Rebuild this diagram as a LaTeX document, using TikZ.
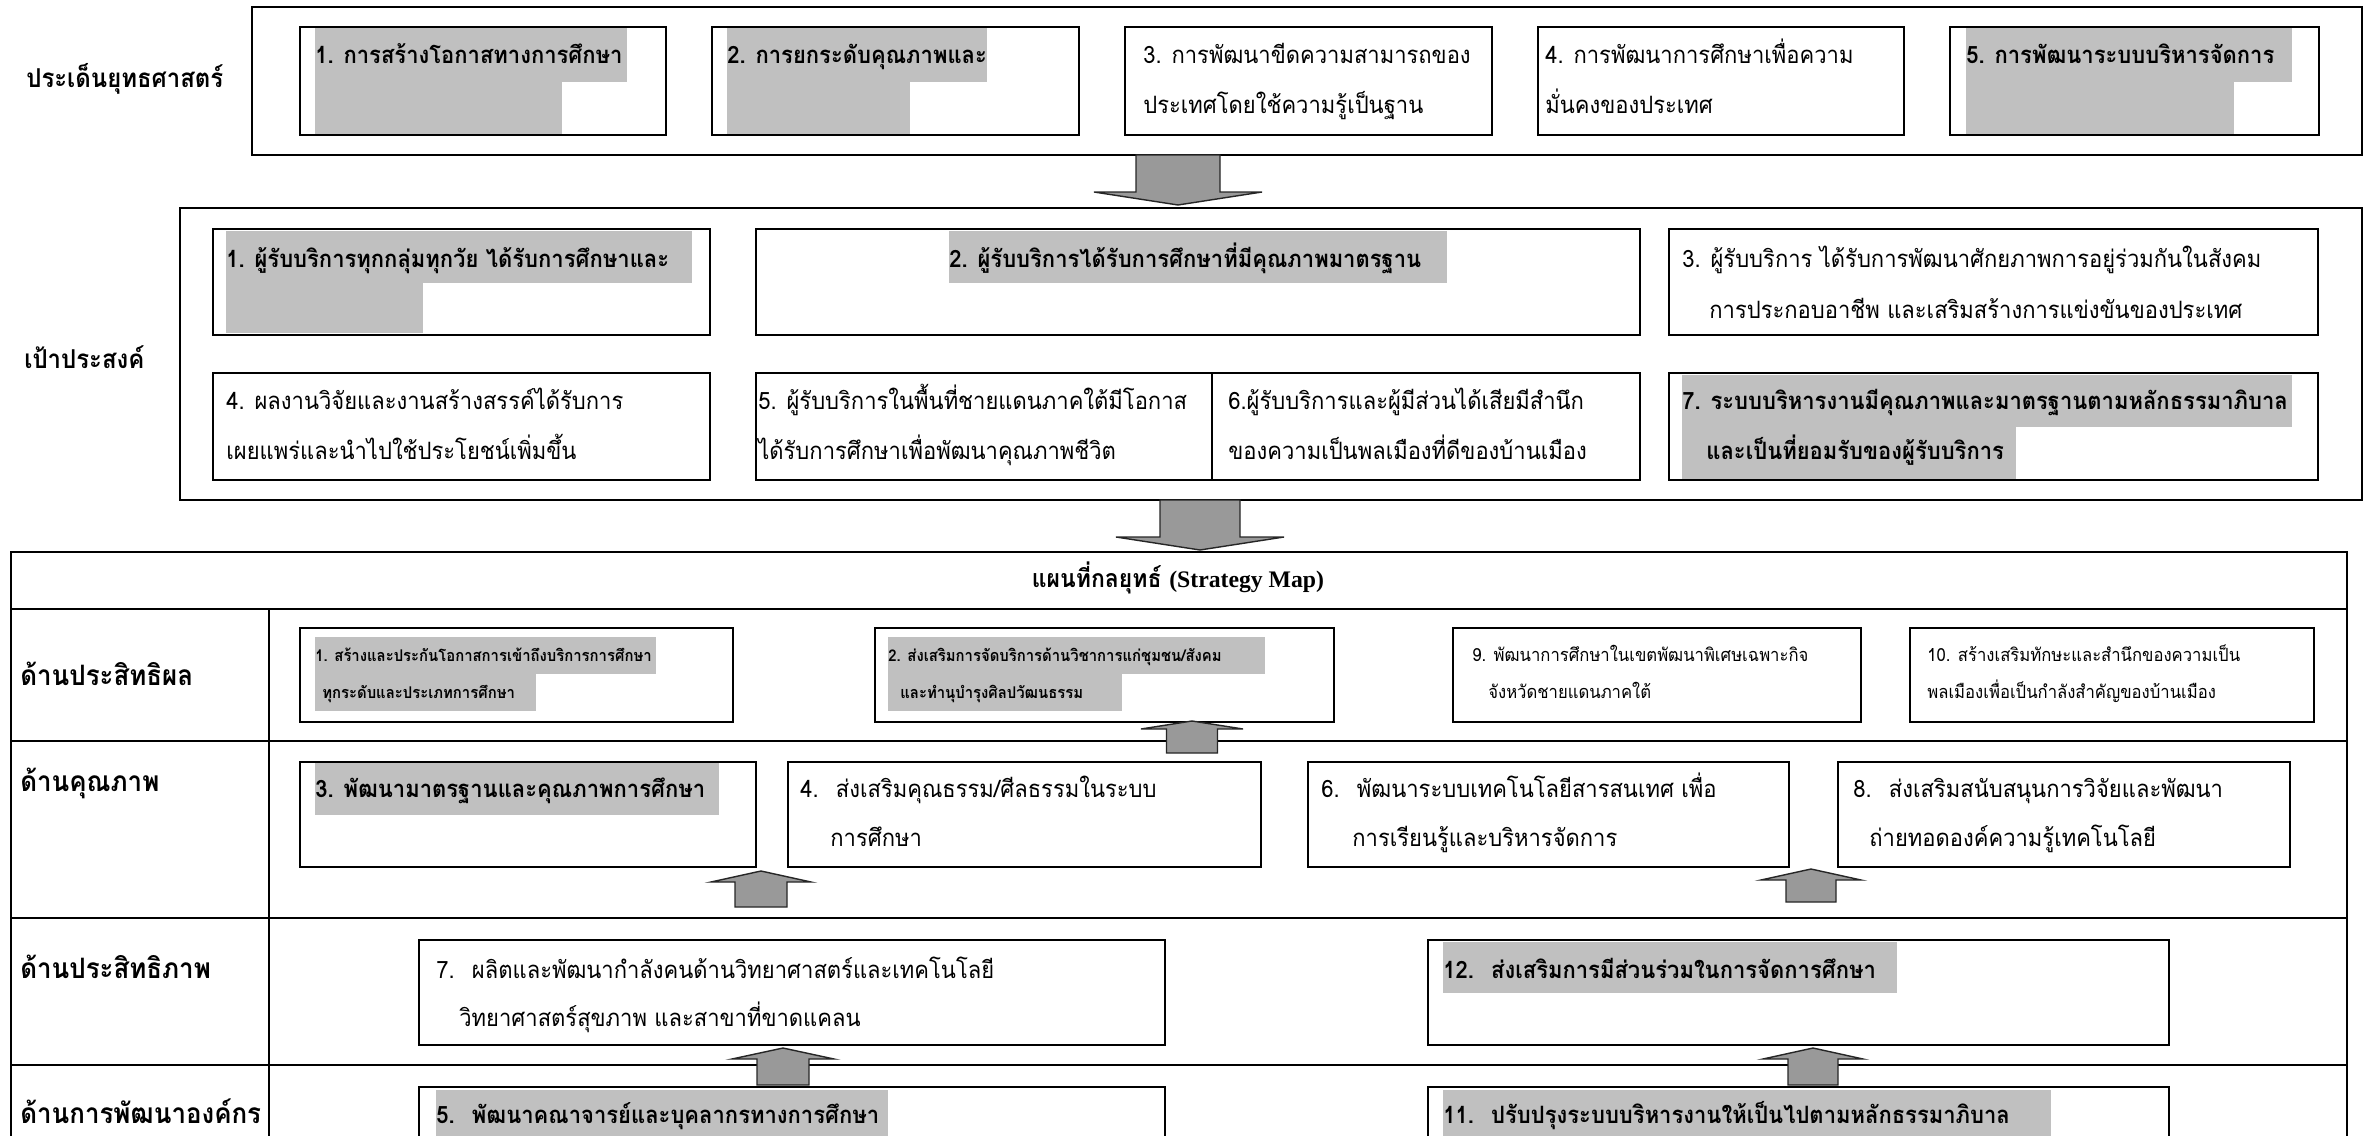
\documentclass[tikz,border=0pt]{standalone}
\usepackage{fontspec}
\newfontfamily\thai[Script=Thai, FakeStretch=0.92]{Loma}
\newfontfamily\latinserif{Liberation Serif}
\usetikzlibrary{fit}

\definecolor{hlgray}{HTML}{C0C0C0}
\definecolor{arrowgray}{HTML}{999999}

\tikzset{
  frame/.style={draw, line width=1.6pt},
  cell/.style={draw, line width=1.6pt, inner sep=0pt},
  txt/.style={anchor=base west, inner sep=0pt, font={\thai\fontsize{13.6}{15}\selectfont}},
  btxt/.style={txt, font={\thai\bfseries\fontsize{13.6}{15}\selectfont}},
  stxt/.style={txt, font={\thai\fontsize{10.3}{12}\selectfont}},
  sbtxt/.style={txt, font={\thai\bfseries\fontsize{9.2}{11}\selectfont}},
  rowlab/.style={anchor=base west, inner sep=0pt, font={\thai\bfseries\fontsize{16}{18}\selectfont}},
  toplab/.style={rowlab, font={\thai\bfseries\fontsize{14.8}{17}\selectfont}},
  hl/.style={fill=hlgray},
  blockarr/.style={fill=arrowgray, draw=black!85, line width=0.8pt},
}

% block arrow: centre x, tip y, head base y, tail y, shaft half, head half
\newcommand{\blockarrow}[6]{%
  \filldraw[blockarr] ({#1-#5},#4) -- ({#1-#5},#3) -- ({#1-#6},#3) -- (#1,#2)
    -- ({#1+#6},#3) -- ({#1+#5},#3) -- ({#1+#5},#4) -- cycle;}

\begin{document}
\begin{tikzpicture}[x=0.2mm, y=-0.2mm]
\useasboundingbox (0,0) rectangle (2368,1136);
\clip (0,0) rectangle (2368,1136);

% highlights
\fill[hl] (315,28) rectangle (627,82);   \fill[hl] (315,82) rectangle (562,134);
\fill[hl] (727,28) rectangle (987,82);   \fill[hl] (727,82) rectangle (910,134);
\fill[hl] (1966,28) rectangle (2292,82); \fill[hl] (1966,82) rectangle (2234,134);
\fill[hl] (226,231) rectangle (692,283); \fill[hl] (226,283) rectangle (423,333);
\fill[hl] (949,231) rectangle (1447,283);
\fill[hl] (1682,375) rectangle (2292,427); \fill[hl] (1682,427) rectangle (2016,479);
\fill[hl] (315,637) rectangle (656,674); \fill[hl] (315,674) rectangle (536,711);
\fill[hl] (888,637) rectangle (1265,674); \fill[hl] (888,674) rectangle (1122,711);
\fill[hl] (315,763) rectangle (719,815);
\fill[hl] (1443,942) rectangle (1897,993);
\fill[hl] (436,1090) rectangle (888,1141);
\fill[hl] (1443,1090) rectangle (2051,1141);

% strategic issues
\node[cell, fit={(252,7) (2362,155)}] (issues) {};
\node[toplab] (issueslab) at (26,88) {ประเด็นยุทธศาสตร์};
\node[cell, fit={(300,27) (666,135)}] (is1) {};
\node[cell, fit={(712,27) (1079,135)}] (is2) {};
\node[cell, fit={(1125,27) (1492,135)}] (is3) {};
\node[cell, fit={(1538,27) (1904,135)}] (is4) {};
\node[cell, fit={(1950,27) (2319,135)}] (is5) {};
\node[btxt] (is1a) at (315,64) {1. การสร้างโอกาสทางการศึกษา};
\node[btxt] (is2a) at (727,64) {2. การยกระดับคุณภาพและ};
\node[txt] (is3a) at (1143,64) {3. การพัฒนาขีดความสามารถของ};
\node[txt] (is3b) at (1143,114) {ประเทศโดยใช้ความรู้เป็นฐาน};
\node[txt] (is4a) at (1545,64) {4. การพัฒนาการศึกษาเพื่อความ};
\node[txt] (is4b) at (1545,114) {มั่นคงของประเทศ};
\node[btxt] (is5a) at (1966,64) {5. การพัฒนาระบบบริหารจัดการ};

% goals
\node[cell, fit={(180,208) (2362,500)}] (goals) {};
\node[toplab] (goalslab) at (24,368) {เป้าประสงค์};
\node[cell, fit={(213,229) (710,335)}] (g1) {};
\node[cell, fit={(756,229) (1640,335)}] (g2) {};
\node[cell, fit={(1669,229) (2318,335)}] (g3) {};
\node[cell, fit={(213,373) (710,480)}] (g4) {};
\node[cell, fit={(756,373) (1212,480)}] (g5) {};
\node[cell, fit={(1212,373) (1640,480)}] (g6) {};
\node[cell, fit={(1669,373) (2318,480)}] (g7) {};
\node[btxt] (g1a) at (226,267) {1. ผู้รับบริการทุกกลุ่มทุกวัย ได้รับการศึกษาและ};
\node[btxt] (g2a) at (949,267) {2. ผู้รับบริการได้รับการศึกษาที่มีคุณภาพมาตรฐาน};
\node[txt] (g3a) at (1682,267) {3. ผู้รับบริการ ได้รับการพัฒนาศักยภาพการอยู่ร่วมกันในสังคม};
\node[txt] (g3b) at (1709,318) {การประกอบอาชีพ และเสริมสร้างการแข่งขันของประเทศ};
\node[txt] (g4a) at (226,409) {4. ผลงานวิจัยและงานสร้างสรรค์ได้รับการ};
\node[txt] (g4b) at (226,459) {เผยแพร่และนำไปใช้ประโยชน์เพิ่มขึ้น};
\node[txt] (g5a) at (758,409) {5. ผู้รับบริการในพื้นที่ชายแดนภาคใต้มีโอกาส};
\node[txt] (g5b) at (758,459) {ได้รับการศึกษาเพื่อพัฒนาคุณภาพชีวิต};
\node[txt] (g6a) at (1228,409) {6.ผู้รับบริการและผู้มีส่วนได้เสียมีสำนึก};
\node[txt] (g6b) at (1228,459) {ของความเป็นพลเมืองที่ดีของบ้านเมือง};
\node[btxt] (g7a) at (1682,409) {7. ระบบบริหารงานมีคุณภาพและมาตรฐานตามหลักธรรมาภิบาล};
\node[btxt] (g7b) at (1706,459) {และเป็นที่ยอมรับของผู้รับบริการ};

% strategy map table
\node[cell, fit={(11,552) (2347,1200)}] (map) {};
\draw[frame] (11,609) -- (2347,609);
\draw[frame] (11,741) -- (2347,741);
\draw[frame] (11,918) -- (2347,918);
\draw[frame] (11,1065) -- (2347,1065);
\draw[line width=1.2pt] (269,609) -- (269,1200);
\node[anchor=base, inner sep=0pt, font={\thai\bfseries\fontsize{14.2}{16}\selectfont}] (maptitle) at (1178,587) {แผนที่กลยุทธ์ {\latinserif\fontsize{13.5}{16}\selectfont (Strategy Map)}};
\node[rowlab] (lab1) at (20,685) {ด้านประสิทธิผล};
\node[rowlab] (lab2) at (20,791) {ด้านคุณภาพ};
\node[rowlab] (lab3) at (20,978) {ด้านประสิทธิภาพ};
\node[rowlab] (lab4) at (20,1123) {ด้านการพัฒนาองค์กร};

% effectiveness
\node[cell, fit={(300,628) (733,722)}] (s1) {};
\node[cell, fit={(875,628) (1334,722)}] (s2) {};
\node[cell, fit={(1453,628) (1861,722)}] (s9) {};
\node[cell, fit={(1910,628) (2314,722)}] (s10) {};
\node[sbtxt] (s1a) at (315,661) {1. สร้างและประกันโอกาสการเข้าถึงบริการการศึกษา};
\node[sbtxt] (s1b) at (322,698) {ทุกระดับและประเภทการศึกษา};
\node[sbtxt] (s2a) at (888,661) {2. ส่งเสริมการจัดบริการด้านวิชาการแก่ชุมชน/สังคม};
\node[sbtxt] (s2b) at (900,698) {และทำนุบำรุงศิลปวัฒนธรรม};
\node[stxt] (s9a) at (1472,661) {9. พัฒนาการศึกษาในเขตพัฒนาพิเศษเฉพาะกิจ};
\node[stxt] (s9b) at (1488,698) {จังหวัดชายแดนภาคใต้};
\node[stxt] (s10a) at (1927,661) {10. สร้างเสริมทักษะและสำนึกของความเป็น};
\node[stxt] (s10b) at (1927,698) {พลเมืองเพื่อเป็นกำลังสำคัญของบ้านเมือง};

% quality
\node[cell, fit={(300,762) (756,867)}] (s3) {};
\node[cell, fit={(788,762) (1261,867)}] (s4) {};
\node[cell, fit={(1308,762) (1789,867)}] (s6) {};
\node[cell, fit={(1838,762) (2290,867)}] (s8) {};
\node[btxt] (s3a) at (315,797) {3. พัฒนามาตรฐานและคุณภาพการศึกษา};
\node[txt] (s4a) at (800,797) {4.~ ส่งเสริมคุณธรรม/ศีลธรรมในระบบ};
\node[txt] (s4b) at (830,846) {การศึกษา};
\node[txt] (s6a) at (1321,797) {6.~ พัฒนาระบบเทคโนโลยีสารสนเทศ เพื่อ};
\node[txt] (s6b) at (1352,846) {การเรียนรู้และบริหารจัดการ};
\node[txt] (s8a) at (1853,797) {8.~ ส่งเสริมสนับสนุนการวิจัยและพัฒนา};
\node[txt] (s8b) at (1869,846) {ถ่ายทอดองค์ความรู้เทคโนโลยี};

% efficiency
\node[cell, fit={(419,940) (1165,1045)}] (s7) {};
\node[cell, fit={(1428,940) (2169,1045)}] (s12) {};
\node[txt] (s7a) at (436,978) {7.~ ผลิตและพัฒนากำลังคนด้านวิทยาศาสตร์และเทคโนโลยี};
\node[txt] (s7b) at (459,1026) {วิทยาศาสตร์สุขภาพ และสาขาที่ขาดแคลน};
\node[btxt] (s12a) at (1443,978) {12.~ ส่งเสริมการมีส่วนร่วมในการจัดการศึกษา};

% organisation
\node[cell, fit={(419,1087) (1165,1200)}] (s5) {};
\node[cell, fit={(1428,1087) (2169,1200)}] (s11) {};
\node[btxt] (s5a) at (436,1123) {5.~ พัฒนาคณาจารย์และบุคลากรทางการศึกษา};
\node[btxt] (s11a) at (1443,1123) {11.~ ปรับปรุงระบบบริหารงานให้เป็นไปตามหลักธรรมาภิบาล};

% block arrows
\blockarrow{1178}{205}{192}{155}{42}{84}
\blockarrow{1200}{550}{537}{500}{40}{84}
\blockarrow{1192}{721}{729}{753}{25.5}{51}
\blockarrow{761}{871}{882}{907}{26}{50}
\blockarrow{1811}{869}{880}{902}{25}{50}
\blockarrow{783}{1048}{1059}{1085}{26}{51}
\blockarrow{1813}{1048}{1059}{1085}{25}{50}
\end{tikzpicture}
\end{document}
